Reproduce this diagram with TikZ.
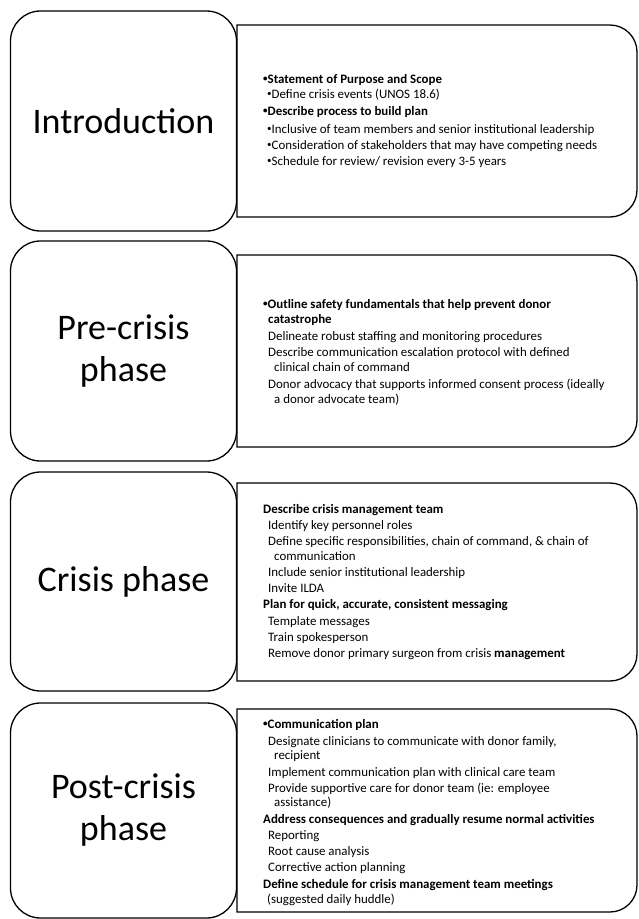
\documentclass[tikz,border=0pt]{standalone}
\usepackage{fontspec}
\setmainfont{Carlito}
\newcommand\bul{{\fontsize{9}{9}\selectfont\raisebox{0.25ex}{\textbullet}}}
\begin{document}
\begin{tikzpicture}[x=1pt,y=-1pt,
  phase/.style={draw, line width=1.3pt, rounded corners=30pt, align=center,
    font=\fontsize{36}{42}\selectfont, inner sep=0pt, minimum width=226pt},
  txt/.style={anchor=base west, inner sep=0pt, font=\fontsize{12.9}{15}\selectfont},
  hd/.style={txt, font=\fontsize{12.9}{15}\selectfont\bfseries},
  panel/.style={draw, line width=1.3pt}]
\useasboundingbox (0,0) rectangle (638,919);

% left phase boxes
\node[phase, minimum height=220pt] (intro) at (123.5,121) {Introduction};
\node[phase, minimum height=220pt] (pre) at (123.5,351) {Pre-crisis\\phase};
\node[phase, minimum height=219pt] (crisis) at (123.5,581.5) {Crisis phase};
\node[phase, minimum height=215pt] (post) at (123.5,810.5) {Post-crisis\\phase};

% right panels (square left corners, rounded right corners)
\draw[panel] (237,25) -- (610,25) arc[start angle=90,end angle=0,radius=27pt]
  -- (637,190) arc[start angle=0,end angle=-90,radius=27pt] -- (237,217) -- cycle;
\draw[panel] (237,255) -- (610,255) arc[start angle=90,end angle=0,radius=27pt]
  -- (637,420) arc[start angle=0,end angle=-90,radius=27pt] -- (237,447) -- cycle;
\draw[panel] (237,483) -- (610,483) arc[start angle=90,end angle=0,radius=27pt]
  -- (637,654) arc[start angle=0,end angle=-90,radius=27pt] -- (237,681) -- cycle;
\draw[panel] (237,709) -- (610,709) arc[start angle=90,end angle=0,radius=27pt]
  -- (637,885) arc[start angle=0,end angle=-90,radius=27pt] -- (237,912) -- cycle;

% Introduction text
\node[hd] (i1) at (263,83) {\bul Statement of Purpose and Scope};
\node[txt] (i2) at (267,98) {\bul Define crisis events (UNOS 18.6)};
\node[hd] (i3) at (263,115) {\bul Describe process to build plan};
\node[txt] (i4) at (267,133) {\bul Inclusive of team members and senior institutional leadership};
\node[txt] (i5) at (267,149) {\bul Consideration of stakeholders that may have competing needs};
\node[txt] (i6) at (267,165) {\bul Schedule for review/ revision every 3-5 years};

% Pre-crisis text
\node[hd] (p1) at (263,308) {\bul Outline safety fundamentals that help prevent donor};
\node[hd] (p2) at (268,323) {catastrophe};
\node[txt] (p3) at (268,340) {Delineate robust staffing and monitoring procedures};
\node[txt] (p4) at (268,356) {Describe communication escalation protocol with defined};
\node[txt] (p5) at (274,371) {clinical chain of command};
\node[txt] (p6) at (268,388) {Donor advocacy that supports informed consent process (ideally};
\node[txt] (p7) at (274,403) {a donor advocate team)};

% Crisis text
\node[hd] (c1) at (263,513) {Describe crisis management team};
\node[txt] (c2) at (268,529) {Identify key personnel roles};
\node[txt] (c3) at (268,545) {Define specific responsibilities, chain of command, \& chain of};
\node[txt] (c4) at (274,560) {communication};
\node[txt] (c5) at (268,576) {Include senior institutional leadership};
\node[txt] (c6) at (268,592) {Invite ILDA};
\node[hd] (c7) at (263,608) {Plan for quick, accurate, consistent messaging};
\node[txt] (c8) at (268,625) {Template messages};
\node[txt] (c9) at (268,641) {Train spokesperson};
\node[txt] (c10) at (268,657) {Remove donor primary surgeon from crisis \textbf{management}};

% Post-crisis text
\node[hd] (q1) at (263,728) {\bul Communication plan};
\node[txt] (q2) at (268,745) {Designate clinicians to communicate with donor family,};
\node[txt] (q3) at (274,759) {recipient};
\node[txt] (q4) at (268,776) {Implement communication plan with clinical care team};
\node[txt] (q5) at (268,792) {Provide supportive care for donor team (ie: employee};
\node[txt] (q6) at (274,806) {assistance)};
\node[hd] (q7) at (263,823) {Address consequences and gradually resume normal activities};
\node[txt] (q8) at (268,839) {Reporting};
\node[txt] (q9) at (268,855) {Root cause analysis};
\node[txt] (q10) at (268,871) {Corrective action planning};
\node[hd] (q11) at (263,888) {Define schedule for crisis management team meetings};
\node[txt] (q12) at (267,903) {(suggested daily huddle)};
\end{tikzpicture}
\end{document}
